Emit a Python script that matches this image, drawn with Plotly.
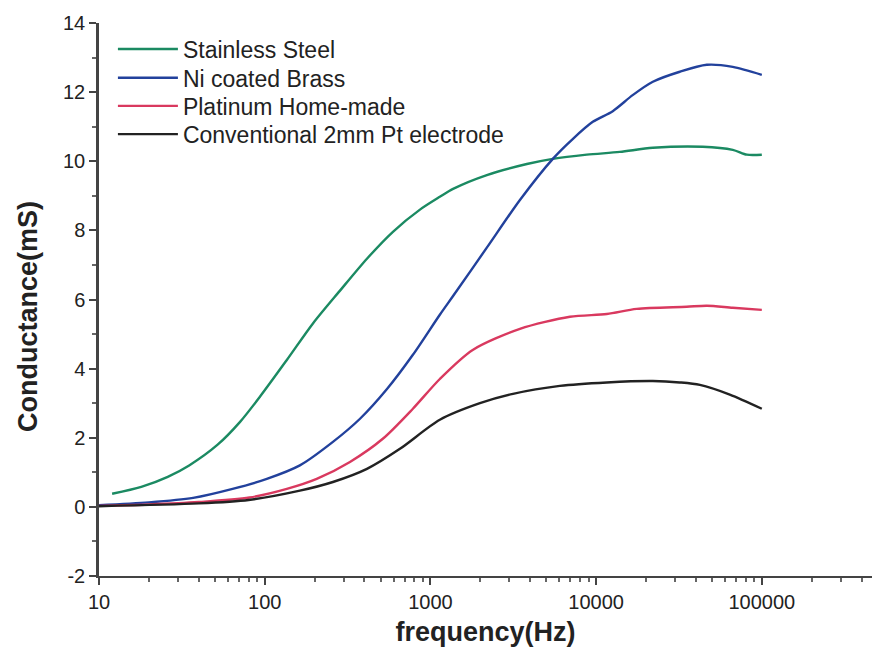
import plotly.graph_objects as go

# ---------------- data ----------------
series_names = ["Stainless Steel", "Ni coated Brass", "Platinum Home-made",
                "Conventional 2mm Pt electrode"]
series_colors = ["#1b8a62", "#22419c", "#d9395f", "#222222"]

ss_freq = [12, 18, 26, 35, 52, 71, 94, 136, 195, 284, 414, 594, 865, 1140,
           1370, 2190, 3820, 5480, 8790, 13900, 22000, 44000, 66800, 81300,
           100000]
ss_cond = [0.38, 0.58, 0.87, 1.2, 1.8, 2.46, 3.2, 4.25, 5.3, 6.25, 7.18,
           7.96, 8.6, 8.97, 9.2, 9.6, 9.92, 10.07, 10.19, 10.27, 10.39, 10.42,
           10.33, 10.19, 10.19]

ni_freq = [10, 20, 37, 64, 103, 163, 258, 376, 547, 784, 1140, 1370, 2190,
           3470, 5480, 7250, 9550, 12600, 16700, 22000, 32000, 46600, 66800,
           100000]
ni_cond = [0.05, 0.13, 0.26, 0.52, 0.81, 1.2, 1.88, 2.55, 3.41, 4.4, 5.56,
           6.1, 7.5, 8.88, 10.07, 10.65, 11.14, 11.45, 11.92, 12.3, 12.59,
           12.79, 12.73, 12.5]

pt_freq = [10, 20, 40, 81, 136, 206, 327, 516, 784, 1140, 1800, 3470, 6950,
           11600, 17600, 35200, 46600, 66800, 100000]
pt_cond = [0.03, 0.07, 0.14, 0.27, 0.52, 0.81, 1.3, 1.97, 2.84, 3.7, 4.54,
           5.15, 5.5, 5.58, 5.73, 5.79, 5.82, 5.76, 5.7]

conv_freq = [10, 40, 80, 163, 258, 414, 655, 1140, 1990, 3150, 6040, 11600,
             22000, 32000, 42300, 64100, 100000]
conv_cond = [0.02, 0.1, 0.2, 0.47, 0.72, 1.1, 1.68, 2.52, 3.0, 3.27, 3.5,
             3.6, 3.64, 3.6, 3.53, 3.25, 2.84]

x_tick_vals = [10, 100, 1000, 10000, 100000]
x_tick_text = ["10", "100", "1000", "10000", "100000"]
y_tick_vals = [-2, 0, 2, 4, 6, 8, 10, 12, 14]
y_tick_text = ["-2", "0", "2", "4", "6", "8", "10", "12", "14"]

x_title = "frequency(Hz)"
y_title = "Conductance(mS)"

# ---------------- figure ----------------
FONT = "Arial, Liberation Sans, Helvetica, sans-serif"
INK = "#222222"

legend_ids = ["legend", "legend2", "legend3", "legend4"]
legend_y = [0.953, 0.901, 0.850, 0.799]

fig = go.Figure()
for name, color, xs, ys, lg in zip(series_names, series_colors,
                                   [ss_freq, ni_freq, pt_freq, conv_freq],
                                   [ss_cond, ni_cond, pt_cond, conv_cond],
                                   legend_ids):
    fig.add_trace(go.Scatter(x=xs, y=ys, name=name, mode="lines", legend=lg,
                             line=dict(color=color, width=2.4,
                                       shape="spline", smoothing=0.8)))

minor_x = [m * 10 ** e for e in range(1, 6) for m in range(2, 10)]

layout_legends = {}
for lg, ly in zip(legend_ids, legend_y):
    layout_legends[lg] = dict(x=0.018, y=ly, xanchor="left", yanchor="middle",
                              bgcolor="rgba(0,0,0,0)", borderwidth=0,
                              font=dict(family=FONT, size=23, color=INK),
                              itemwidth=60)

fig.update_layout(
    width=872, height=650,
    margin=dict(l=99, r=0, t=23, b=74),
    paper_bgcolor="white", plot_bgcolor="white",
    font=dict(family=FONT, color=INK, size=20),
    showlegend=True,
    **layout_legends,
)

fig.update_xaxes(
    type="log", range=[1, 5.665],
    tickvals=x_tick_vals, ticktext=x_tick_text,
    ticks="outside", ticklen=7, tickwidth=2, tickcolor="#444",
    minor=dict(tickvals=minor_x, ticks="outside", ticklen=4, tickwidth=1.5,
               tickcolor="#666", showgrid=False),
    showline=True, linecolor="#444", linewidth=2,
    showgrid=False, zeroline=False,
    tickfont=dict(size=20, color=INK),
    title=dict(text="<b>" + x_title + "</b>", font=dict(size=27, color=INK),
               standoff=10),
)
fig.update_yaxes(
    range=[-2, 14],
    tickvals=y_tick_vals, ticktext=y_tick_text,
    ticks="outside", ticklen=7, tickwidth=2, tickcolor="#444",
    minor=dict(dtick=1, ticks="outside", ticklen=4, tickwidth=1.5,
               tickcolor="#666", showgrid=False),
    showline=True, linecolor="#444", linewidth=2.5,
    showgrid=False, zeroline=False,
    tickfont=dict(size=20, color=INK),
)

fig.add_annotation(
    text="<b>" + y_title + "</b>", textangle=-90,
    xref="paper", yref="paper", x=-0.092, y=0.47,
    xanchor="center", yanchor="middle", showarrow=False,
    font=dict(family=FONT, size=27, color=INK),
)

fig.write_html("out.html")
